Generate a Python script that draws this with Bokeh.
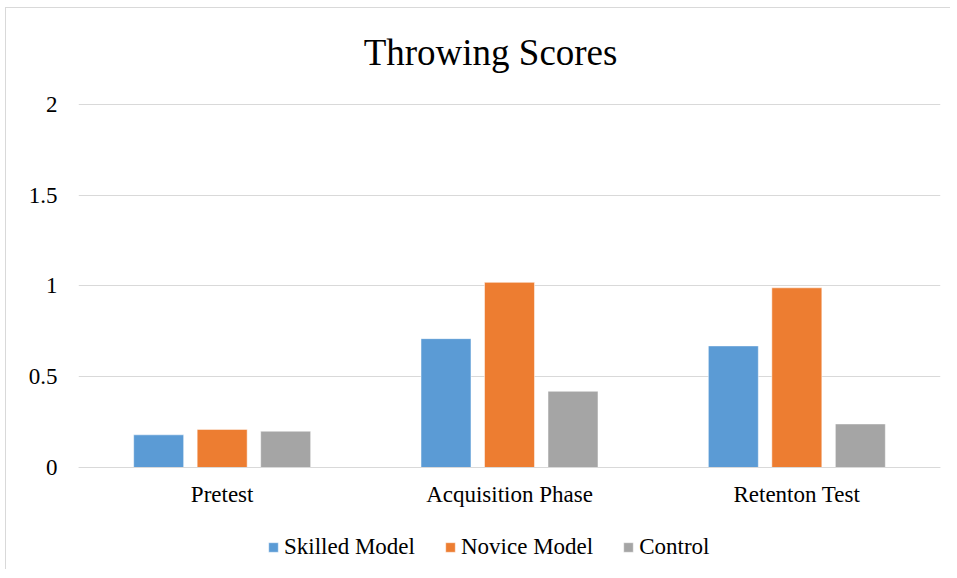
from bokeh.plotting import figure
from bokeh.models import ColumnDataSource, FactorRange, FixedTicker, Legend, LegendItem, Range1d, Label
from bokeh.transform import dodge
from bokeh.embed import file_html
from bokeh.resources import INLINE

title_text = "Throwing Scores"
categories = ["Pretest", "Acquisition Phase", "Retenton Test"]
series_names = ["Skilled Model", "Novice Model", "Control"]
skilled = [0.18, 0.71, 0.67]
novice = [0.21, 1.02, 0.99]
control = [0.20, 0.42, 0.24]
colors = ["#5B9BD5", "#ED7D31", "#A5A5A5"]
y_ticks = [0, 0.5, 1, 1.5, 2]
y_tick_labels = ["0", "0.5", "1", "1.5", "2"]

FONT = "Liberation Serif"

source = ColumnDataSource(data=dict(cat=categories, skilled=skilled, novice=novice, control=control))

# frame spans the whole canvas height so title and legend (drawn inside it) are not clipped
p = figure(x_range=FactorRange(*categories), y_range=Range1d(-0.5675, 2.5289),
           width=945, height=562, output_backend="svg", toolbar_location=None, title=None,
           min_border_left=72, min_border_right=11, min_border_top=0, min_border_bottom=0)
p.styles = {"border-left": "1px solid #D9D9D9", "border-top": "1px solid #D9D9D9",
            "margin-left": "5px", "margin-top": "7px"}

p.add_layout(Label(x=1.434, y=2.287, text=title_text, text_font=FONT, text_font_size="37px",
                   text_color="#000000", text_align="center", text_baseline="alphabetic"))

offsets = [-0.221, 0.0, 0.221]
fields = ["skilled", "novice", "control"]
renderers = []
for f, off, c in zip(fields, offsets, colors):
    r = p.vbar(x=dodge("cat", off, range=p.x_range), top=f, bottom=0, width=0.174, source=source,
               fill_color=c, line_color="white", line_alpha=0.5, line_width=1)
    renderers.append(r)

legend = Legend(items=[LegendItem(label=n, renderers=[r]) for n, r in zip(series_names, renderers)],
                orientation="horizontal", location=(189, 10),
                glyph_width=12, glyph_height=12, label_standoff=5, spacing=29,
                padding=0, margin=0, border_line_color=None, background_fill_alpha=0,
                label_text_font=FONT, label_text_font_size="23px", label_text_color="#000000")
p.add_layout(legend, "center")

xa = p.xaxis[0]
ya = p.yaxis[0]
ya.ticker = FixedTicker(ticks=y_ticks)
ya.major_label_overrides = {t: l for t, l in zip(y_ticks, y_tick_labels)}
ya.axis_line_color = None
ya.major_tick_line_color = None
ya.minor_tick_line_color = None
ya.major_label_standoff = 15
for ax in (xa, ya):
    ax.major_label_text_font = FONT
    ax.major_label_text_font_size = "23px"
    ax.major_label_text_color = "#000000"

xa.fixed_location = 0
xa.axis_line_color = "#D9D9D9"
xa.major_tick_line_color = None
xa.minor_tick_line_color = None
xa.major_label_standoff = 9

p.xgrid.grid_line_color = None
p.ygrid.grid_line_color = "#D9D9D9"
p.ygrid.ticker = FixedTicker(ticks=y_ticks)
p.outline_line_color = None

open("out.html", "w").write(file_html(p, INLINE))
